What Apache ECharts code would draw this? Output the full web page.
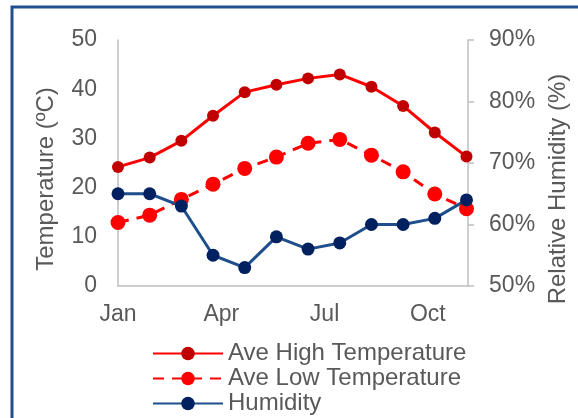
<!DOCTYPE html>
<html>
<head>
<meta charset="utf-8">
<script src="https://cdn.jsdelivr.net/npm/echarts@6/dist/echarts.min.js"></script>
<style>
html,body{margin:0;padding:0;background:#fff;}
#chart{width:578px;height:418px;}
</style>
</head>
<body>
<div id="chart"></div>
<script>
// ---- data ----
var categories = ['Jan','Feb','Mar','Apr','May','Jun','Jul','Aug','Sep','Oct','Nov','Dec'];
var highTemp = [24.2, 26.1, 29.5, 34.6, 39.4, 40.9, 42.2, 43.0, 40.5, 36.6, 31.2, 26.3];
var lowTemp  = [12.9, 14.4, 17.6, 20.7, 23.9, 26.2, 29.0, 29.8, 26.6, 23.2, 18.7, 15.7];
var humidity = [65, 65, 63, 55, 53, 58, 56, 57, 60, 60, 61, 64];
var xTickLabels = ['Jan','Apr','Jul','Oct'];
var tempTicks = [0, 10, 20, 30, 40, 50];
var humTicks = [50, 60, 70, 80, 90];

var FONT = '"Liberation Sans", Arial, sans-serif';
var TXT = '#595959';
var AXIS = '#BFBFBF';
var xStep = 3.26;

function pts(arr){ return categories.map(function(c,i){ return [i, arr[i]]; }); }

var chart = echarts.init(document.getElementById('chart'), null, {renderer:'canvas'});
chart.setOption({
  animation: false,
  backgroundColor: '#ffffff',
  textStyle: {fontFamily: FONT},
  graphic: [{
    type: 'rect', z: 100, silent: true,
    shape: {x: 12, y: 7, width: 640, height: 480},
    style: {fill: 'none', stroke: '#22508F', lineWidth: 3}
  }],
  grid: {left: 118, right: 100, top: 40, bottom: 132, containLabel: false},
  legend: {
    orient: 'vertical', left: 152, top: 341, height: 90, padding: 0,
    itemWidth: 70, itemHeight: 17, itemGap: 0,
    textStyle: {fontSize: 24, color: TXT, fontFamily: FONT, lineHeight: 25},
    data: ['Ave High Temperature', 'Ave Low Temperature', 'Humidity']
  },
  xAxis: {
    type: 'value', min: 0, max: 11.05, interval: xStep,
    axisLine: {show: true, lineStyle: {color: AXIS, width: 1.5}},
    axisTick: {show: false},
    splitLine: {show: false},
    axisLabel: {
      color: TXT, fontSize: 23, fontFamily: FONT, margin: 17, showMaxLabel: false,
      formatter: function(v){ var k = Math.round(v / xStep); return xTickLabels[k] || ''; }
    }
  },
  yAxis: [{
    type: 'value', min: tempTicks[0], max: tempTicks[tempTicks.length-1], interval: 10,
    name: 'Temperature (ºC)', nameLocation: 'middle', nameRotate: 90, nameGap: 60,
    nameTextStyle: {color: TXT, fontSize: 24, fontFamily: FONT, padding: [0, 32, 0, 0]},
    axisLine: {show: true, lineStyle: {color: AXIS, width: 1.5}},
    axisTick: {show: false},
    splitLine: {show: false},
    axisLabel: {color: TXT, fontSize: 23, fontFamily: FONT, margin: 21}
  }, {
    type: 'value', min: humTicks[0], max: humTicks[humTicks.length-1], interval: 10,
    position: 'right',
    name: 'Relative Humidity (%)', nameLocation: 'middle', nameRotate: 90, nameGap: 76,
    nameTextStyle: {color: TXT, fontSize: 24, fontFamily: FONT, padding: [0, 52, 0, 0]},
    axisLine: {show: true, lineStyle: {color: AXIS, width: 1.5}},
    axisTick: {show: true, inside: false, length: 6, lineStyle: {color: AXIS, width: 1.5}},
    splitLine: {show: false},
    axisLabel: {color: TXT, fontSize: 23, fontFamily: FONT, margin: 21, formatter: '{value}%'}
  }],
  series: [{
    name: 'Ave High Temperature', type: 'line', yAxisIndex: 0,
    data: pts(highTemp),
    symbol: 'circle', symbolSize: 12,
    lineStyle: {color: '#FF0000', width: 3},
    itemStyle: {color: '#C00000', borderWidth: 0}
  }, {
    name: 'Ave Low Temperature', type: 'line', yAxisIndex: 0,
    data: pts(lowTemp),
    symbol: 'circle', symbolSize: 15,
    lineStyle: {color: '#FF0000', width: 3, type: [11, 8]},
    itemStyle: {color: '#FF0000', borderWidth: 0}
  }, {
    name: 'Humidity', type: 'line', yAxisIndex: 1,
    data: pts(humidity),
    symbol: 'circle', symbolSize: 13,
    lineStyle: {color: '#1F4E8C', width: 3},
    itemStyle: {color: '#002060', borderWidth: 0}
  }]
});
</script>
</body>
</html>
